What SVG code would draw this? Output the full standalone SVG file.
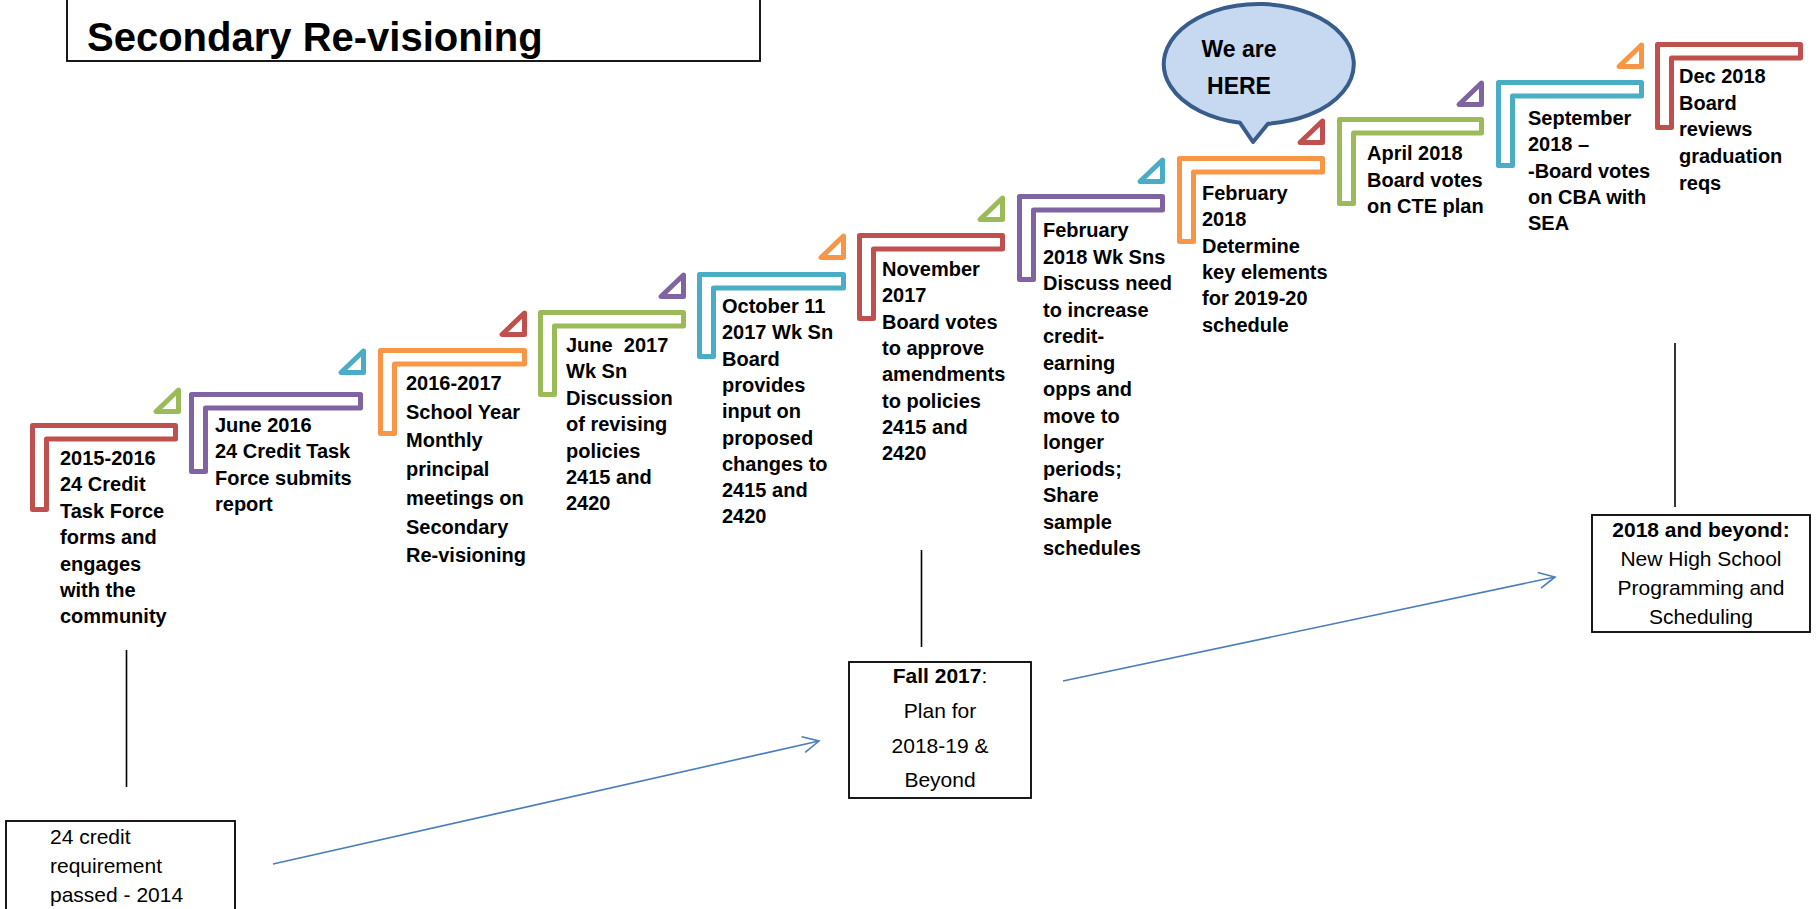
<svg xmlns="http://www.w3.org/2000/svg" width="1816" height="909" viewBox="0 0 1816 909">
<style>
.br{fill:#fff;stroke-width:5;stroke-linejoin:round}
.tri{fill:#fff;stroke-width:5;stroke-linejoin:round}
.red{stroke:#C0504D}.pur{stroke:#8064A2}.ora{stroke:#F79646}.grn{stroke:#9BBB59}.blu{stroke:#4BACC6}
.st{font-family:"Liberation Sans",Arial,sans-serif;font-weight:bold;font-size:20px;fill:#000}
.bx{fill:#fff;stroke:#000;stroke-width:1.8}
.bt{font-family:"Liberation Sans",Arial,sans-serif;font-size:21px;fill:#000}
.b{font-weight:bold}
.vl{stroke:#000;stroke-width:1.6}
.ar{stroke:#4A7EBB;stroke-width:1.6;fill:none}
</style>
<defs>
<marker id="open" viewBox="0 0 20 20" refX="18" refY="10" markerWidth="20" markerHeight="20" markerUnits="userSpaceOnUse" orient="auto">
<path d="M2,2 L18,10 L2,18" fill="none" stroke="#4A7EBB" stroke-width="1.6"/>
</marker>
</defs>
<rect width="1816" height="909" fill="#fff"/>

<g id="title">
<rect class="bx" x="67" y="-5" width="693" height="66"/>
<text x="87" y="51" font-family="Liberation Sans,Arial,sans-serif" font-weight="bold" font-size="40">Secondary Re-visioning</text>
</g>

<g id="connectors">
<line class="vl" x1="126.5" y1="650" x2="126.5" y2="787"/>
<line class="vl" x1="921.5" y1="550" x2="921.5" y2="647"/>
<line class="vl" x1="1675" y1="343" x2="1675" y2="507"/>
<line class="ar" x1="273" y1="864" x2="819" y2="741" marker-end="url(#open)"/>
<line class="ar" x1="1063" y1="681" x2="1555" y2="577" marker-end="url(#open)"/>
</g>

<g id="step1">
<path class="br red" d="M32.5,425.5 H175.5 V439 H46.5 V509.5 H32.5 Z"/>
<path class="tri grn" d="M156,411.5 H178.5 V390 Z"/>
<text class="st" x="60" y="465"><tspan x="60">2015-2016</tspan><tspan x="60" dy="26.4">24 Credit</tspan><tspan x="60" dy="26.4">Task Force</tspan><tspan x="60" dy="26.4">forms and</tspan><tspan x="60" dy="26.4">engages</tspan><tspan x="60" dy="26.4">with the</tspan><tspan x="60" dy="26.4">community</tspan></text>
</g>

<g id="step2">
<path class="br pur" d="M191.5,394.5 H360.5 V408 H205.5 V471.5 H191.5 Z"/>
<path class="tri blu" d="M341,372.5 H363.5 V351 Z"/>
<text class="st" x="215" y="432"><tspan x="215">June 2016</tspan><tspan x="215" dy="26.4">24 Credit Task</tspan><tspan x="215" dy="26.4">Force submits</tspan><tspan x="215" dy="26.4">report</tspan></text>
</g>

<g id="step3">
<path class="br ora" d="M380.5,350.5 H524.5 V364 H394.5 V433.5 H380.5 Z"/>
<path class="tri red" d="M502,334.5 H524.5 V313 Z"/>
<text class="st" x="406" y="390"><tspan x="406">2016-2017</tspan><tspan x="406" dy="28.7">School Year</tspan><tspan x="406" dy="28.7">Monthly</tspan><tspan x="406" dy="28.7">principal</tspan><tspan x="406" dy="28.7">meetings on</tspan><tspan x="406" dy="28.7">Secondary</tspan><tspan x="406" dy="28.7">Re-visioning</tspan></text>
</g>

<g id="step4">
<path class="br grn" d="M540.5,312.5 H683.5 V326 H554.5 V394.5 H540.5 Z"/>
<path class="tri pur" d="M661,296.5 H683.5 V275 Z"/>
<text class="st" x="566" y="352" xml:space="preserve"><tspan x="566">June  2017</tspan><tspan x="566" dy="26.4">Wk Sn</tspan><tspan x="566" dy="26.4">Discussion</tspan><tspan x="566" dy="26.4">of revising</tspan><tspan x="566" dy="26.4">policies</tspan><tspan x="566" dy="26.4">2415 and</tspan><tspan x="566" dy="26.4">2420</tspan></text>
</g>

<g id="step5">
<path class="br blu" d="M699.5,274.5 H843.5 V288 H713.5 V356.5 H699.5 Z"/>
<path class="tri ora" d="M821,257.5 H843.5 V236 Z"/>
<text class="st" x="722" y="313"><tspan x="722">October 11</tspan><tspan x="722" dy="26.3">2017 Wk Sn</tspan><tspan x="722" dy="26.3">Board</tspan><tspan x="722" dy="26.3">provides</tspan><tspan x="722" dy="26.3">input on</tspan><tspan x="722" dy="26.3">proposed</tspan><tspan x="722" dy="26.3">changes to</tspan><tspan x="722" dy="26.3">2415 and</tspan><tspan x="722" dy="26.3">2420</tspan></text>
</g>

<g id="step6">
<path class="br red" d="M859.5,235.5 H1002.5 V249 H873.5 V318.5 H859.5 Z"/>
<path class="tri grn" d="M980,219.5 H1002.5 V198 Z"/>
<text class="st" x="882" y="276"><tspan x="882">November</tspan><tspan x="882" dy="26.3">2017</tspan><tspan x="882" dy="26.3">Board votes</tspan><tspan x="882" dy="26.3">to approve</tspan><tspan x="882" dy="26.3">amendments</tspan><tspan x="882" dy="26.3">to policies</tspan><tspan x="882" dy="26.3">2415 and</tspan><tspan x="882" dy="26.3">2420</tspan></text>
</g>

<g id="step7">
<path class="br pur" d="M1019.5,196.5 H1162.5 V210 H1033.5 V279.5 H1019.5 Z"/>
<path class="tri blu" d="M1140,181.5 H1162.5 V160 Z"/>
<text class="st" x="1043" y="237"><tspan x="1043">February</tspan><tspan x="1043" dy="26.5">2018 Wk Sns</tspan><tspan x="1043" dy="26.5">Discuss need</tspan><tspan x="1043" dy="26.5">to increase</tspan><tspan x="1043" dy="26.5">credit-</tspan><tspan x="1043" dy="26.5">earning</tspan><tspan x="1043" dy="26.5">opps and</tspan><tspan x="1043" dy="26.5">move to</tspan><tspan x="1043" dy="26.5">longer</tspan><tspan x="1043" dy="26.5">periods;</tspan><tspan x="1043" dy="26.5">Share</tspan><tspan x="1043" dy="26.5">sample</tspan><tspan x="1043" dy="26.5">schedules</tspan></text>
</g>

<g id="step8">
<path class="br ora" d="M1179.5,158.5 H1322.5 V172 H1193.5 V241.5 H1179.5 Z"/>
<path class="tri red" d="M1300,142.5 H1322.5 V121 Z"/>
<text class="st" x="1202" y="200"><tspan x="1202">February</tspan><tspan x="1202" dy="26.3">2018</tspan><tspan x="1202" dy="26.3">Determine</tspan><tspan x="1202" dy="26.3">key elements</tspan><tspan x="1202" dy="26.3">for 2019-20</tspan><tspan x="1202" dy="26.3">schedule</tspan></text>
</g>

<g id="step9">
<path class="br grn" d="M1339.5,119.5 H1481.5 V133 H1353.5 V203.5 H1339.5 Z"/>
<path class="tri pur" d="M1459,104.5 H1481.5 V83 Z"/>
<text class="st" x="1367" y="160"><tspan x="1367">April 2018</tspan><tspan x="1367" dy="26.7">Board votes</tspan><tspan x="1367" dy="26.7">on CTE plan</tspan></text>
</g>

<g id="step10">
<path class="br blu" d="M1498.5,82.5 H1641.5 V96 H1512.5 V165.5 H1498.5 Z"/>
<path class="tri ora" d="M1619,66.5 H1641.5 V45 Z"/>
<text class="st" x="1528" y="125"><tspan x="1528">September</tspan><tspan x="1528" dy="26.3">2018 –</tspan><tspan x="1528" dy="26.3">-Board votes</tspan><tspan x="1528" dy="26.3">on CBA with</tspan><tspan x="1528" dy="26.3">SEA</tspan></text>
</g>

<g id="step11">
<path class="br red" d="M1657.5,44.5 H1800.5 V58 H1671.5 V127.5 H1657.5 Z"/>
<text class="st" x="1679" y="83"><tspan x="1679">Dec 2018</tspan><tspan x="1679" dy="26.7">Board</tspan><tspan x="1679" dy="26.7">reviews</tspan><tspan x="1679" dy="26.7">graduation</tspan><tspan x="1679" dy="26.7">reqs</tspan></text>
</g>

<g id="bubble">
<path d="M1268,123.7 A95,60 0 1 0 1240,122.8 L1253,142 Z" fill="#C6D9F1" stroke="#385D8A" stroke-width="4" stroke-linejoin="round"/>
<text x="1239" y="57" text-anchor="middle" font-family="Liberation Sans,Arial,sans-serif" font-weight="bold" font-size="23">We are</text>
<text x="1239" y="94" text-anchor="middle" font-family="Liberation Sans,Arial,sans-serif" font-weight="bold" font-size="23">HERE</text>
</g>

<g id="box2014">
<rect class="bx" x="6" y="821" width="229" height="100"/>
<text class="bt" x="50" y="844">24 credit</text>
<text class="bt" x="50" y="873">requirement</text>
<text class="bt" x="50" y="902">passed - 2014</text>
</g>

<g id="boxFall2017">
<rect class="bx" x="849" y="662" width="182" height="136"/>
<text class="bt" x="940" y="683" text-anchor="middle"><tspan class="b">Fall 2017</tspan>:</text>
<text class="bt" x="940" y="718" text-anchor="middle">Plan for</text>
<text class="bt" x="940" y="753" text-anchor="middle">2018-19 &amp;</text>
<text class="bt" x="940" y="787" text-anchor="middle">Beyond</text>
</g>

<g id="box2018">
<rect class="bx" x="1592" y="515" width="218" height="117"/>
<text class="bt b" x="1701" y="537" text-anchor="middle">2018 and beyond:</text>
<text class="bt" x="1701" y="566" text-anchor="middle">New High School</text>
<text class="bt" x="1701" y="595" text-anchor="middle">Programming and</text>
<text class="bt" x="1701" y="624" text-anchor="middle">Scheduling</text>
</g>
</svg>
